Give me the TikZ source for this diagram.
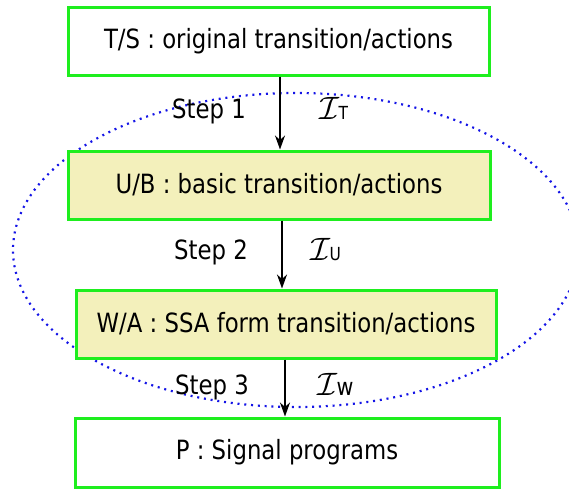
\documentclass[tikz,border=0pt]{standalone}
\usepackage{fontspec}
\setmainfont{DejaVu Sans}[FakeStretch=0.86]
\usetikzlibrary{arrows.meta}
\definecolor{boxgreen}{RGB}{30,238,30}
\definecolor{boxfill}{RGB}{243,240,187}
\definecolor{dotblue}{RGB}{20,20,230}
\tikzset{
  stagebox/.style={draw=boxgreen, line width=3pt, rectangle, inner sep=0pt,
    font=\fontsize{26.5}{30}\selectfont, text=black},
  arr/.style={-{Stealth[length=14pt,width=10pt,inset=4.5pt]}, line width=1.9pt},
  lbl/.style={font=\fontsize{26.5}{30}\selectfont, inner sep=0pt},
}
\newcommand{\calI}{\scalebox{1.3}{$\mathcal{I}$}}
\begin{document}
\begin{tikzpicture}[x=1pt,y=1pt]
\useasboundingbox (0,0) rectangle (569,-490);
\clip (0,0) rectangle (569,-490);
% dotted ellipse (background)
\draw[dotblue, line width=2.2pt, dash pattern=on 2pt off 4.8pt] (296,-250) ellipse [x radius=283, y radius=157];
% boxes
\node[stagebox, minimum width=421pt, minimum height=68pt] (ts) at (278.5,-41) {\raisebox{-2pt}{T/S : original transition/actions}};
\node[stagebox, fill=boxfill, minimum width=422pt, minimum height=68pt] (ub) at (279,-185) {\raisebox{-2pt}{U/B : basic transition/actions}};
\node[stagebox, fill=boxfill, minimum width=420pt, minimum height=68pt] (wa) at (286,-324) {\raisebox{-1pt}{W/A : SSA form transition/actions}};
\node[stagebox, minimum width=424pt, minimum height=69pt] (p) at (287,-452.5) {\raisebox{-2pt}{P : Signal programs}};
% arrows
\draw[arr] (ts.south -| 280,0) -- (ub.north -| 280,0);
\draw[arr] (ub.south -| 282,0) -- (wa.north -| 282,0);
\draw[arr] (wa.south -| 285,0) -- (p.north -| 285,0);
% labels
\node[lbl] (s1) at (209,-111) {Step 1};
\node[lbl] (s2) at (211,-252) {Step 2};
\node[lbl] (s3) at (212,-387) {Step 3};
\node[lbl, anchor=base west] (i1) at (319,-119) {\calI\kern-0.5pt{\fontsize{18}{20}\selectfont T}};
\node[lbl, anchor=base west] (i2) at (310,-260) {\calI\kern-0.5pt{\fontsize{18}{20}\selectfont U}};
\node[lbl, anchor=base west] (i3) at (317,-395) {\calI\kern-0.5pt{\fontsize{24}{26}\selectfont w}};
\end{tikzpicture}
\end{document}
